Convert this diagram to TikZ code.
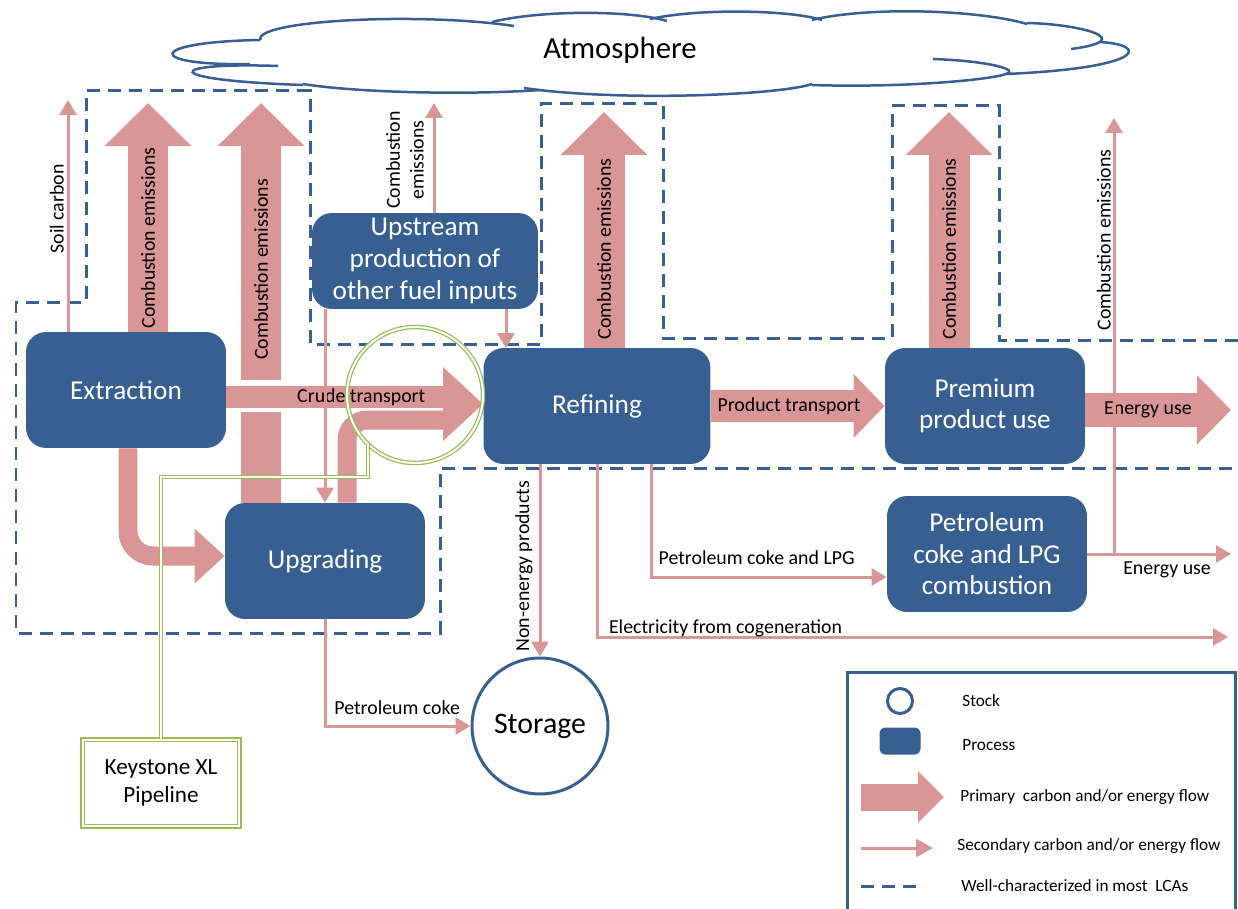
\documentclass[tikz,border=0pt]{standalone}
\usepackage{fontspec}
\setmainfont{Carlito}
\usetikzlibrary{arrows.meta}

\definecolor{procblue}{RGB}{55,95,145}
\definecolor{flowpink}{RGB}{217,150,148}
\definecolor{lcablue}{RGB}{56,96,146}
\definecolor{pipegreen}{RGB}{155,187,89}

\tikzset{
  process/.style={fill=procblue, rounded corners=0.4cm, text=white, align=center,
    font=\fontsize{15.5}{18}\selectfont, minimum width=4cm, minimum height=2.32cm, inner sep=0pt},
  stock/.style={circle, draw=procblue, line width=0.06cm, minimum size=2.72cm,
    font=\fontsize{17}{20}\selectfont},
  bigflow/.style={draw=flowpink, line width=0.82cm, -{Triangle[length=0.86cm, width=1.68cm]}},
  thinflow/.style={draw=flowpink, line width=0.06cm, -{Triangle[length=0.3cm, width=0.34cm]}},
  flowlbl/.style={font=\fontsize{11.3}{13.5}\selectfont, text=black},
  legendlbl/.style={font=\fontsize{9.8}{12}\selectfont, text=black, anchor=west, inner sep=0pt},
  lcaline/.style={draw=lcablue, line width=0.06cm, dash pattern=on 0.26cm off 0.16cm},
  cloudline/.style={draw=procblue, line width=0.05cm},
  pipe/.style={draw=pipegreen, line width=0.025cm, double=white, double distance=0.04cm},
}

\begin{document}
\begin{tikzpicture}[x=0.02cm, y=-0.02cm]
\useasboundingbox (0,0) rectangle (1238,909);

% well-characterized boundary
\draw[lcaline] (1238,340) -- (999,340) -- (999,106) -- (892,106) -- (892,338) -- (663,338)
  -- (663,104) -- (541,104) -- (541,344) -- (310,344) -- (310,91) -- (86,91) -- (86,302)
  -- (16,302) -- (16,633) -- (440,633) -- (440,468) -- (1238,468);

% atmosphere cloud
\draw[cloudline] (260,40) .. controls (255,20) and (420,12) .. (514,26);
\draw[cloudline] (492,22) .. controls (540,10) and (630,10) .. (667,21);
\draw[cloudline] (650,19) .. controls (700,8) and (790,10) .. (822,20);
\draw[cloudline] (812,20) .. controls (870,6) and (980,10) .. (1027,24);
\draw[cloudline] (1027,23) .. controls (1080,24) and (1140,40) .. (1071,49);
\draw[cloudline] (1100,42) .. controls (1150,45) and (1145,68) .. (1006,74);
\draw[cloudline] (933,59) .. controls (990,61) and (1020,70) .. (1006,74)
  .. controls (990,80) and (900,88) .. (812,85);
\draw[cloudline] (812,84) .. controls (780,95) and (620,102) .. (524,88);
\draw[cloudline] (303,84) .. controls (360,93) and (470,95) .. (540,90);
\draw[cloudline] (278,66) .. controls (165,62) and (155,80) .. (303,85);
\draw[cloudline] (260,40) .. controls (145,42) and (145,66) .. (250,64);
\node[font=\fontsize{17.5}{21}\selectfont] (atm) at (620,50) {Atmosphere};

% processes and stock
\node[process] (ext) at (126,390) {Extraction};
\node[process] (upg) at (325,561) {Upgrading};
\node[process, minimum width=4.52cm, minimum height=1.92cm] (ups) at (425,261) {Upstream\\production of\\other fuel inputs};
\node[process, minimum width=4.54cm] (ref) at (597,406) {Refining};
\node[process] (prem) at (985,406) {Premium\\product use};
\node[process] (lpg) at (987,554) {Petroleum\\coke and LPG\\combustion};
\node[stock] (sto) at (540,726) {Storage};
\node[pipe, minimum width=3.14cm, minimum height=1.74cm, align=center,
  font=\fontsize{13.2}{15.5}\selectfont] (key) at (161,783) {Keystone XL\\Pipeline};

% free ends
\coordinate (soil-top) at (68,100);
\coordinate (ext-em) at (148,103);
\coordinate (upg-em) at (261,103);
\coordinate (upg-em-gap) at (261,380);
\coordinate (upg-em-low) at (261,412);
\coordinate (ups-em) at (434,103);
\coordinate (ref-fuel) at (506,348);
\coordinate (ref-em) at (604,112);
\coordinate (prem-em) at (949,112);
\coordinate (use-tip) at (1231,410);
\coordinate (lpg-em) at (1114,118);
\coordinate (lpg-use) at (1231,554);
\coordinate (crude-base) at (444,397);
\coordinate (crude-tip) at (483,404);
\coordinate (branch-turn) at (347,420);
\coordinate (ext-turn) at (128,556);
\coordinate (coke-turn) at (651,577);
\coordinate (elec-end) at (1228,637);
\coordinate (pipe-bend) at (368,477);

% primary flows
\draw[bigflow] (ext.north -| ext-em) -- (ext-em)
  node[flowlbl, pos=0.41, rotate=90] {Combustion emissions};
\draw[flowpink, line width=0.82cm] (upg.north -| upg-em) -- (upg-em-low);
\draw[bigflow] (upg-em-gap) -- (upg-em)
  node[flowlbl, pos=0.40, rotate=90] {Combustion emissions};
\draw[bigflow] (ref.north -| ref-em) -- (ref-em)
  node[flowlbl, pos=0.42, rotate=90] {Combustion emissions};
\draw[bigflow] (prem.north -| prem-em) -- (prem-em)
  node[flowlbl, pos=0.42, rotate=90] {Combustion emissions};
\draw[flowpink, line width=0.38cm, rounded corners=0.4cm] (upg.north -| branch-turn)
  -- (branch-turn) -- (crude-base |- branch-turn);
\draw[flowpink, line width=0.44cm] (ext.east |- crude-base) -- (crude-base)
  node[flowlbl, pos=0.62] {Crude transport};
\fill[flowpink] (crude-tip) -- ++(-40,-37) -- ++(0,74) -- cycle;
\draw[flowpink, line width=0.38cm, rounded corners=0.5cm, -{Triangle[length=0.6cm, width=1.06cm]}]
  (ext.south -| ext-turn) -- (ext-turn) -- (upg.west |- ext-turn);
\draw[bigflow, line width=0.64cm, -{Triangle[length=0.62cm, width=1.24cm]}] (ref.east) -- (prem.west)
  node[flowlbl, pos=0.45] {Product transport};
\draw[bigflow, line width=0.68cm, -{Triangle[length=0.68cm, width=1.34cm]}] (prem.east |- use-tip) -- (use-tip)
  node[flowlbl, pos=0.43] {Energy use};

% secondary flows
\draw[thinflow] (soil-top |- ext.north) -- (soil-top)
  node[flowlbl, pos=0.53, rotate=90, anchor=south, inner sep=1.5pt] {Soil carbon};
\draw[thinflow] (ups.north -| ups-em) -- (ups-em)
  node[flowlbl, pos=0.48, rotate=90, anchor=south, align=center, inner sep=5pt] {Combustion\\emissions};
\draw[thinflow] (ups.south -| upg.north) -- (upg.north);
\draw[thinflow] (ups.south -| ref-fuel) -- (ref-fuel);
\draw[thinflow] (ref.south -| sto.north) -- (sto.north)
  node[flowlbl, pos=0.53, rotate=90, anchor=south] {Non-energy products};
\draw[thinflow] (ref.south) |- (elec-end)
  node[flowlbl, pos=0.5, anchor=base west, inner sep=0pt, xshift=6pt, yshift=2pt] {Electricity from cogeneration};
\draw[thinflow] (ref.south -| coke-turn) |- (lpg.west |- coke-turn)
  node[flowlbl, pos=0.5, anchor=base west, inner sep=0pt, xshift=3.5pt, yshift=7pt] {Petroleum coke and LPG};
\draw[thinflow] (upg.south) |- (sto.west)
  node[flowlbl, pos=0.5, anchor=base west, inner sep=0pt, xshift=4.5pt, yshift=6.8pt] {Petroleum coke};
\draw[thinflow] (lpg-em |- lpg.east) -- (lpg-em)
  node[flowlbl, pos=0.72, rotate=90, anchor=south, inner sep=1pt] {Combustion emissions};
\draw[thinflow] (lpg.east) -- (lpg-use)
  node[flowlbl, pos=0.555, below] {Energy use};

% pipeline
\node[pipe, circle, minimum size=2.72cm] (pipering) at (415,395) {};
\draw[pipe] (key.north) |- (pipe-bend) -- (pipe-bend |- pipering.226);

% legend
\draw[draw=procblue, line width=0.06cm] (847,672) rectangle (1235,920);
\node[stock, minimum size=0.5cm] (key-stock) at (900,701) {};
\node[legendlbl] at (962,701) {Stock};
\node[process, minimum width=0.82cm, minimum height=0.54cm, rounded corners=0.12cm] (key-proc) at (900,741) {};
\node[legendlbl] at (962,745) {Process};
\coordinate (key-big-a) at (861,797);
\coordinate (key-big-b) at (944,797);
\draw[bigflow, line width=0.54cm, -{Triangle[length=0.52cm, width=1.0cm]}] (key-big-a) -- (key-big-b);
\node[legendlbl] at (960,797) {Primary\ \ carbon and/or energy flow};
\coordinate (key-thin-a) at (861,848);
\coordinate (key-thin-b) at (933,848);
\draw[thinflow, -{Triangle[length=0.34cm, width=0.36cm]}] (key-thin-a) -- (key-thin-b);
\node[legendlbl] at (957,846) {Secondary carbon and/or energy flow};
\coordinate (key-dash-a) at (861,886);
\coordinate (key-dash-b) at (923,886);
\draw[lcaline] (key-dash-a) -- (key-dash-b);
\node[legendlbl] at (961,886) {Well-characterized in most\ \ LCAs};
\end{tikzpicture}
\end{document}
